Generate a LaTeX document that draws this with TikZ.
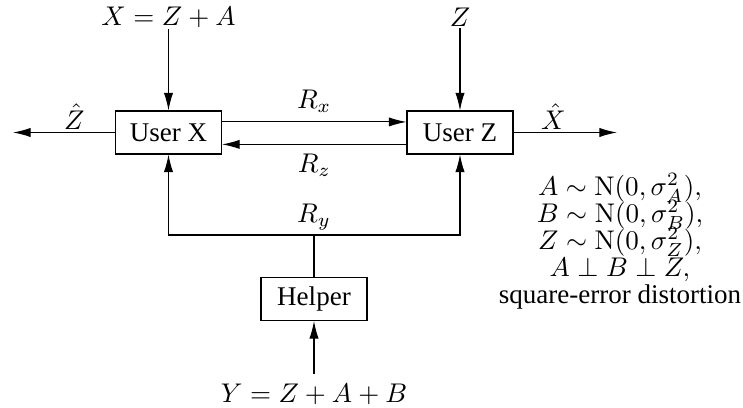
\documentclass[tikz,border=0pt]{standalone}
\usepackage[no-math]{fontspec}
\setmainfont{Liberation Serif}
\usetikzlibrary{arrows.meta,positioning,calc}

\begin{document}
\begin{tikzpicture}[
  x=0.37pt, y=-0.37pt,
  box/.style={draw, minimum width=39.2pt, minimum height=15.9pt, inner sep=0pt},
  arr/.style={-{Latex[length=6.5pt,width=3.4pt]}},
  lbl/.style={inner sep=0.4pt}
]
\useasboundingbox (0,0) rectangle (743,408);
\node[box] (userx) at (168.5,132.5) {User X};
\node[box] (userz) at (460,132.5) {User Z};
\node[box] (helper) at (314,299) {Helper};
\node[lbl] (xin) at (168.5,17) {$X=Z+A$};
\node[lbl] (zin) at (460,17.5) {$Z$};
\node (yin) at (314,394) {$Y=Z+A+B$};
\coordinate (zout) at (13,132.5);
\coordinate (xout) at (617,132.5);
\coordinate (split) at (314,235);
% inputs
\draw[arr] (xin) -- (userx);
\draw[arr] (zin) -- (userz);
\draw[arr] (yin) -- (helper);
% estimates
\draw[arr] (userx) -- node[above,pos=0.4,inner sep=1pt]{$\hat{Z}$} (zout);
\draw[arr] (userz) -- node[above,pos=0.385,inner sep=1pt]{$\hat{X}$} (xout);
% rates
\draw[arr] ([yshift=3.9pt]userx.east) -- node[above]{$R_x$} ([yshift=3.9pt]userz.west);
\draw[arr] ([yshift=-4.4pt]userz.west) -- node[below]{$R_z$} ([yshift=-4.4pt]userx.east);
\draw (helper) -- (split) node[above,inner sep=1.5pt]{$R_y$};
\draw[arr] (split) -| (userx);
\draw[arr] (split) -| (userz);
\node[align=center] (model) at (620,241) {$A\sim\mathrm{N}(0,\sigma_A^2),$\\[-2pt] $B\sim\mathrm{N}(0,\sigma_B^2),$\\[-2pt] $Z\sim\mathrm{N}(0,\sigma_Z^2),$\\[-2pt] $A\perp B\perp Z,$\\[-2pt] square-error distortion};
\end{tikzpicture}
\end{document}
